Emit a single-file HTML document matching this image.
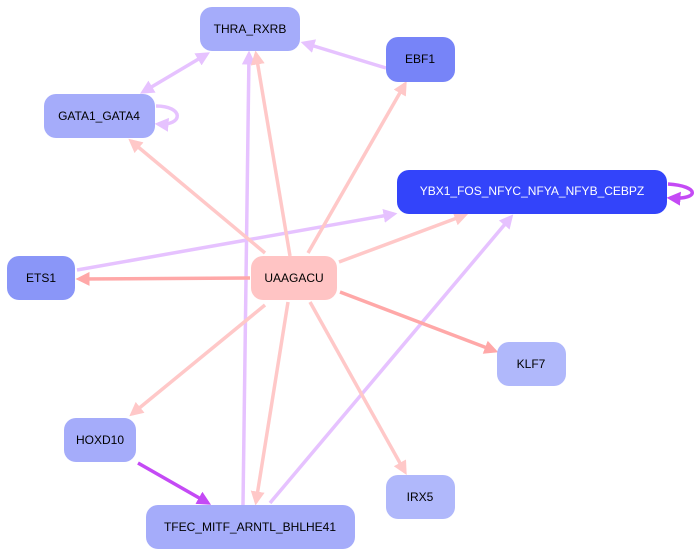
<!DOCTYPE html>
<html><head><meta charset="utf-8"><style>html,body{margin:0;padding:0;background:#fff}svg{display:block}text{font-family:"Liberation Sans",sans-serif;font-size:12px;text-anchor:middle;dominant-baseline:central}</style></head>
<body>
<svg width="697" height="557" viewBox="0 0 697 557">
<defs>
<marker id="pk" markerWidth="4" markerHeight="4" refX="3" refY="2" orient="auto" markerUnits="strokeWidth"><path d="M0,0L4,2L0,4z" fill="#ffc8c8"/></marker>
<marker id="sa" markerWidth="4" markerHeight="4" refX="3" refY="2" orient="auto" markerUnits="strokeWidth"><path d="M0,0L4,2L0,4z" fill="#ffa8a8"/></marker>
<marker id="lv" markerWidth="4" markerHeight="4" refX="3" refY="2" orient="auto" markerUnits="strokeWidth"><path d="M0,0L4,2L0,4z" fill="#e6c2ff"/></marker>
<marker id="lvs" markerWidth="4" markerHeight="4" refX="1" refY="2" orient="auto" markerUnits="strokeWidth"><path d="M4,0L0,2L4,4z" fill="#e6c2ff"/></marker>
<marker id="pu" markerWidth="4" markerHeight="4" refX="3" refY="2" orient="auto" markerUnits="strokeWidth"><path d="M0,0L4,2L0,4z" fill="#c44af5"/></marker>
</defs>
<g fill="none" stroke-width="3.5">
<line x1="243" y1="505" x2="249" y2="54" stroke="#e6c2ff" marker-end="url(#lv)"/>
<line x1="270" y1="503" x2="511" y2="217" stroke="#e6c2ff" marker-end="url(#lv)"/>
<line x1="77" y1="270" x2="394" y2="214" stroke="#e6c2ff" marker-end="url(#lv)"/>
<line x1="386" y1="68" x2="304" y2="43" stroke="#e6c2ff" marker-end="url(#lv)"/>
<line x1="207" y1="54" x2="143" y2="92" stroke="#e6c2ff" marker-end="url(#lv)" marker-start="url(#lvs)"/>
<path d="M156,106 C184,106 184,126 158,124" stroke="#e6c2ff" marker-end="url(#lv)"/>
<line x1="290" y1="256" x2="256" y2="54" stroke="#ffc8c8" marker-end="url(#pk)"/>
<line x1="265" y1="253" x2="131" y2="141" stroke="#ffc8c8" marker-end="url(#pk)"/>
<line x1="308" y1="253" x2="405" y2="84" stroke="#ffc8c8" marker-end="url(#pk)"/>
<line x1="339" y1="262" x2="465" y2="215" stroke="#ffc8c8" marker-end="url(#pk)"/>
<line x1="265" y1="305" x2="132" y2="414" stroke="#ffc8c8" marker-end="url(#pk)"/>
<line x1="310" y1="302" x2="405" y2="472" stroke="#ffc8c8" marker-end="url(#pk)"/>
<line x1="288" y1="302" x2="256" y2="502" stroke="#ffc8c8" marker-end="url(#pk)"/>
<line x1="250" y1="278" x2="79" y2="279" stroke="#ffa8a8" marker-end="url(#sa)"/>
<line x1="340" y1="292" x2="495" y2="351" stroke="#ffa8a8" marker-end="url(#sa)"/>
<line x1="138" y1="463" x2="208" y2="503" stroke="#c44af5" marker-end="url(#pu)"/>
<path d="M668,184 C700,186 700,200 670,198" stroke="#c44af5" marker-end="url(#pu)"/>
</g>
<rect x="200" y="7" width="100" height="44" rx="12" fill="#a5acfa"/><text x="250" y="29">THRA_RXRB</text>
<rect x="386" y="37" width="69" height="45" rx="12" fill="#7784f8"/><text x="420" y="59">EBF1</text>
<rect x="44" y="94" width="111" height="44" rx="12" fill="#a5acfa"/><text x="99" y="116">GATA1_GATA4</text>
<rect x="397" y="170" width="270" height="44" rx="12" fill="#3344fa"/><text x="532" y="191" fill="#fff">YBX1_FOS_NFYC_NFYA_NFYB_CEBPZ</text>
<rect x="7" y="256" width="68" height="44" rx="12" fill="#8a96f8"/><text x="41" y="278">ETS1</text>
<rect x="251" y="256" width="86" height="44" rx="12" fill="#ffc4c4"/><text x="294" y="278">UAAGACU</text>
<rect x="497" y="342" width="69" height="44" rx="12" fill="#b0b8fb"/><text x="531" y="364">KLF7</text>
<rect x="64" y="418" width="72" height="44" rx="12" fill="#a5acfa"/><text x="100" y="440">HOXD10</text>
<rect x="386" y="475" width="69" height="44" rx="12" fill="#b0b8fb"/><text x="420" y="497">IRX5</text>
<rect x="146" y="505" width="209" height="44" rx="12" fill="#a5acfa"/><text x="250" y="527">TFEC_MITF_ARNTL_BHLHE41</text>
</svg>
</body></html>
